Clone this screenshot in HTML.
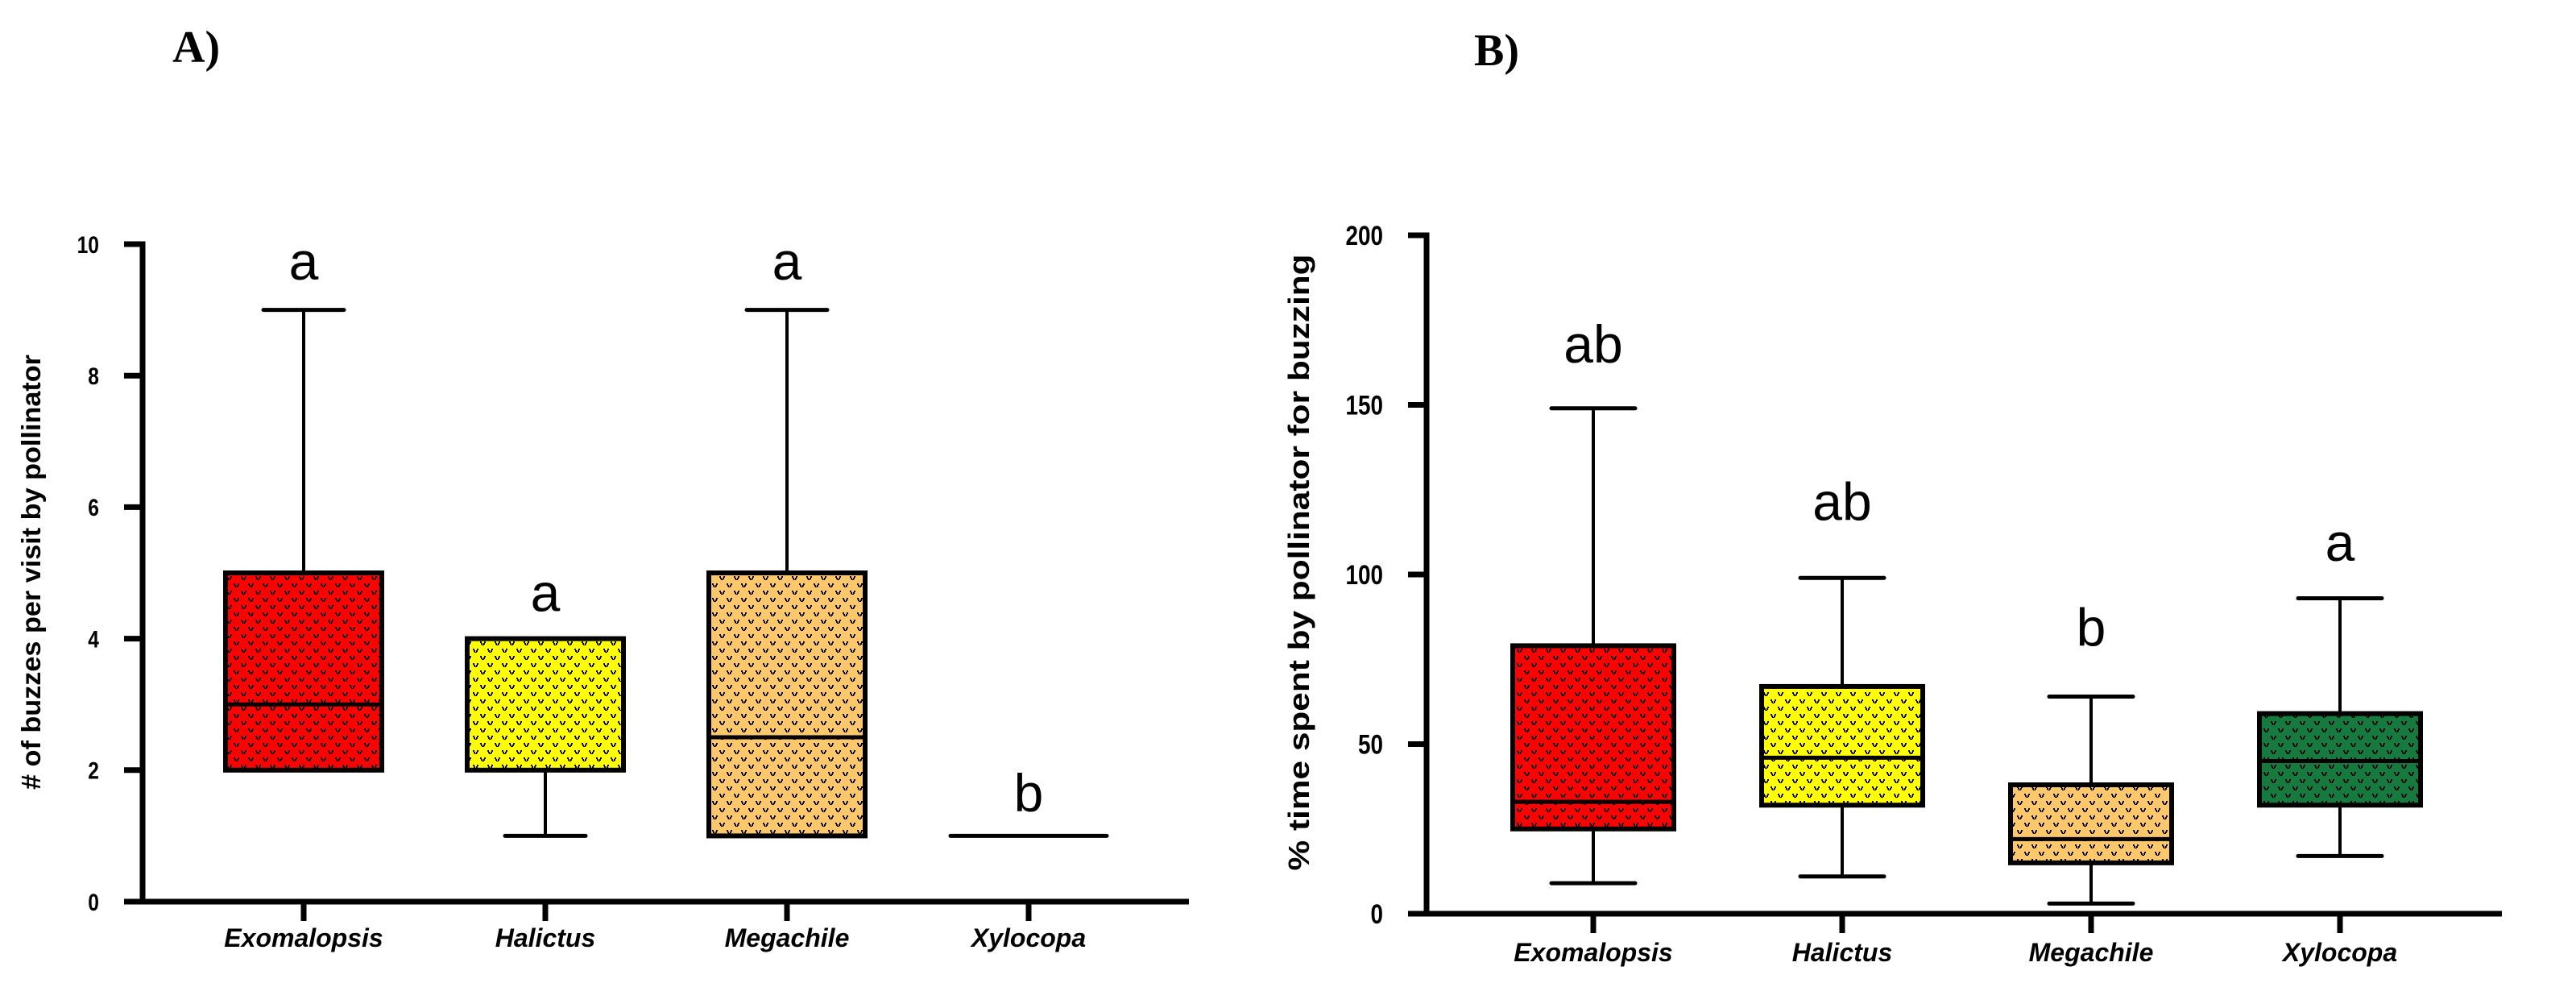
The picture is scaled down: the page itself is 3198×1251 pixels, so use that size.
<!DOCTYPE html>
<html><head><meta charset="utf-8"><style>
html,body{margin:0;padding:0;background:#fff;}
svg{display:block;}
</style></head><body>
<svg id="fig" width="3198" height="1251" viewBox="0 0 3198 1251" xmlns="http://www.w3.org/2000/svg">
<defs>
<pattern id="dots" width="18" height="18" patternUnits="userSpaceOnUse">
<path d="M2 4h2v2h1v2h1v-2h1v-2h2v2h-1v2h-1v1h-3v-1h-1v-2h-1z" fill="#000"/>
<path d="M11 13h2v2h1v2h1v-2h1v-2h2v2h-1v2h-1v1h-3v-1h-1v-2h-1z" fill="#000"/>
</pattern>
</defs>
<text x="214" y="77" font-family="Liberation Serif, serif" font-weight="bold" font-size="56">A)</text>
<text x="1830" y="81" font-family="Liberation Serif, serif" font-weight="bold" font-size="56">B)</text>
<g id="pa"></g>
<g id="pb"></g>
</svg>
<script>
const categories = ["Exomalopsis","Halictus","Megachile","Xylocopa"];
const colors = ["#ff0000","#ffff00","#fcc86b","#167a3e"];
// Panel A: buzzes per visit
const aMin = [2, 1, 1, 1];
const aQ1 = [2, 2, 1, 1];
const aMed = [3, 4, 2.5, 1];
const aQ3 = [5, 4, 5, 1];
const aMax = [9, 4, 9, 1];
const aLetters = ["a","a","a","b"];
const aLetterPos = [9.46, 4.42, 9.46, 1.37];
const aTicks = [0,2,4,6,8,10];
// Panel B: % time spent buzzing
const bMin = [9, 11, 3, 17];
const bQ1 = [25, 32, 15, 32];
const bMed = [33, 46, 22, 45];
const bQ3 = [79, 67, 38, 59];
const bMax = [149, 99, 64, 93];
const bLetters = ["ab","ab","b","a"];
const bLetterPos = [162.5, 116, 79, 104];
const bTicks = [0,50,100,150,200];

const NS = "http://www.w3.org/2000/svg";
function mk(parent, tag, attrs){
  const e = document.createElementNS(NS, tag);
  for (const k in attrs) e.setAttribute(k, attrs[k]);
  parent.appendChild(e);
  return e;
}

function panel(g, cfg, mins, q1s, meds, q3s, maxs, letters, letterPos, ticks){
  const y = v => cfg.y0 - (v - cfg.vmin) / (cfg.vmax - cfg.vmin) * (cfg.y0 - cfg.yTop);
  const x = i => cfg.x0 + cfg.first + i * cfg.step;
  const ya = mk(g, "line", {x1:cfg.x0, y1:y(cfg.vmax)-3.5, x2:cfg.x0, y2:cfg.y0+3.5, stroke:"#000","stroke-width":7});
  
  
  const xa = mk(g, "line", {x1:cfg.x0-23, y1:cfg.y0, x2:cfg.xEnd, y2:cfg.y0, stroke:"#000","stroke-width":7});
  
  
  ticks.forEach(t => {
    const tl = mk(g, "line", {x1:cfg.x0-23, y1:y(t), x2:cfg.x0, y2:y(t), stroke:"#000","stroke-width":7});
    
    
    const tx = mk(g, "text", {x:(cfg.x0-54)/0.82, y:y(t)+cfg.tickFs*0.36, "text-anchor":"end", "font-family":"Liberation Sans, sans-serif", "font-weight":"bold", "font-size":cfg.tickFs, transform:"scale(0.82,1)"});
    tx.textContent = t;
    
    
  });
  const yt = mk(g, "text", {x:0, y:0, "text-anchor":"middle", "font-family":"Liberation Sans, sans-serif", "font-weight":"bold", "font-size":cfg.titleFs, textLength:cfg.titleLen, lengthAdjust:"spacingAndGlyphs", transform:`translate(${cfg.titleX},${cfg.titleY}) rotate(-90)`});
  yt.textContent = cfg.title;
  
  
  categories.forEach((c, i) => {
    const cx = x(i);
    const tk = mk(g, "line", {x1:cx, y1:cfg.y0, x2:cx, y2:cfg.y0+24, stroke:"#000","stroke-width":7});
    
    
    const lb = mk(g, "text", {x:cx, y:cfg.labelY, "text-anchor":"middle", "font-family":"Liberation Sans, sans-serif", "font-weight":"bold", "font-style":"italic", "font-size":32});
    lb.textContent = c;
    
    
    const bw = cfg.boxW, cw = cfg.capW;
    const box = mk(g, "g", {});
    
    
    if (q3s[i] > q1s[i]) {
      if (maxs[i] > q3s[i]) {
        mk(box, "line", {x1:cx, y1:y(maxs[i]), x2:cx, y2:y(q3s[i]), stroke:"#000","stroke-width":4});
        mk(box, "line", {x1:cx-cw/2, y1:y(maxs[i]), x2:cx+cw/2, y2:y(maxs[i]), stroke:"#000","stroke-width":5,"stroke-linecap":"round"});
      }
      if (mins[i] < q1s[i]) {
        mk(box, "line", {x1:cx, y1:y(q1s[i]), x2:cx, y2:y(mins[i]), stroke:"#000","stroke-width":4});
        mk(box, "line", {x1:cx-cw/2, y1:y(mins[i]), x2:cx+cw/2, y2:y(mins[i]), stroke:"#000","stroke-width":5,"stroke-linecap":"round"});
      }
      const r = {x:cx-bw/2, y:y(q3s[i]), width:bw, height:y(q1s[i])-y(q3s[i])};
      mk(box, "rect", Object.assign({fill:colors[i]}, r));
      mk(box, "rect", Object.assign({fill:"url(#dots)"}, r));
      mk(box, "rect", Object.assign({fill:"none", stroke:"#000","stroke-width":6}, r));
      mk(box, "line", {x1:cx-bw/2, y1:y(meds[i]), x2:cx+bw/2, y2:y(meds[i]), stroke:"#000","stroke-width":5});
    } else {
      mk(box, "line", {x1:cx-bw/2, y1:y(meds[i]), x2:cx+bw/2, y2:y(meds[i]), stroke:"#000","stroke-width":5,"stroke-linecap":"round"});
    }
    const lt = mk(g, "text", {x:cx, y:y(letterPos[i]), "text-anchor":"middle", "font-family":"Liberation Sans, sans-serif", "font-size":66});
    lt.textContent = letters[i];
    
    
  });
}

panel(document.getElementById("pa"),
  {x0:177, y0:1119, yTop:303, vmin:0, vmax:10, xEnd:1476, first:200, step:300, boxW:194, capW:100,
   tickFs:30, labelY:1175, title:"# of buzzes per visit by pollinator", titleFs:33, titleLen:540, titleX:50, titleY:710},
  aMin, aQ1, aMed, aQ3, aMax, aLetters, aLetterPos, aTicks);
panel(document.getElementById("pb"),
  {x0:1771, y0:1134, yTop:292, vmin:0, vmax:200, xEnd:3106, first:207, step:309, boxW:200, capW:104,
   tickFs:34, labelY:1193, title:"% time spent by pollinator for buzzing", titleFs:36, titleLen:765, titleX:1625, titleY:698},
  bMin, bQ1, bMed, bQ3, bMax, bLetters, bLetterPos, bTicks);
</script>
</body></html>
